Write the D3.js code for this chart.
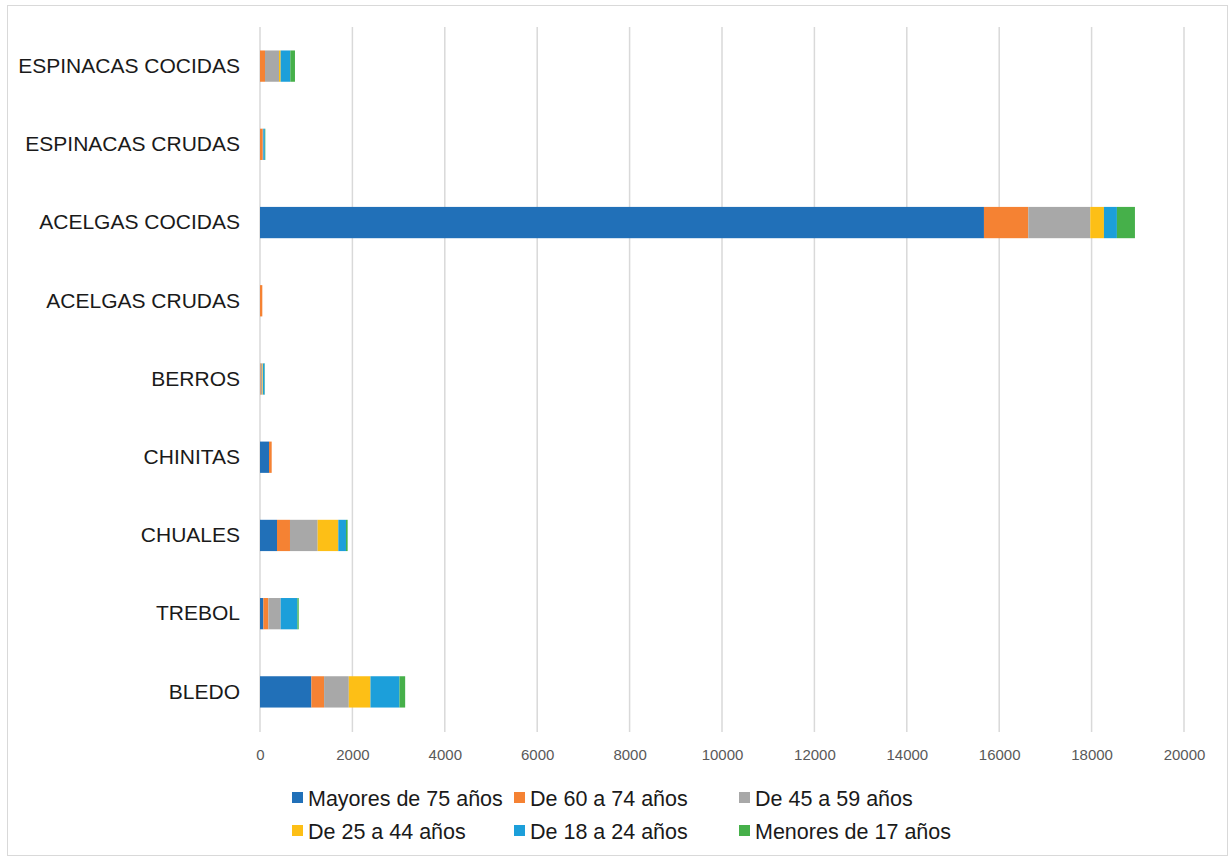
<!DOCTYPE html>
<html>
<head>
<meta charset="utf-8">
<script src="https://cdn.jsdelivr.net/npm/d3@7/dist/d3.min.js"></script>
<style>
  html, body { margin: 0; padding: 0; background: #fff; }
  svg { display: block; }
</style>
</head>
<body>
<svg id="chart" width="1229" height="858"></svg>
<script>
// Vegetables, listed top to bottom
const categories = [
  "ESPINACAS COCIDAS", "ESPINACAS CRUDAS", "ACELGAS COCIDAS", "ACELGAS CRUDAS",
  "BERROS", "CHINITAS", "CHUALES", "TREBOL", "BLEDO"
];

// Age groups (stack order, left to right)
const seriesNames = [
  "Mayores de 75 años", "De 60 a 74 años", "De 45 a 59 años",
  "De 25 a 44 años", "De 18 a 24 años", "Menores de 17 años"
];
const seriesColors = ["#2170B8", "#F58233", "#A8A8A8", "#FDBF16", "#1C9FDA", "#46B04A"];

// Values per age group, one entry per vegetable (same order as categories)
const mayores75 = [0,   0,  15670,  0,  0, 195, 368,  73, 1112];
const de60a74   = [108, 60,   959, 50, 15,  58, 281, 108,  275];
const de45a59   = [303, 10,  1342,  0, 40,   0, 599, 267,  535];
const de25a44   = [36,   0,   296,  0, 10,   0, 447,   0,  469];
const de18a24   = [209, 35,   281,  0, 35,   0, 166, 361,  628];
const menores17 = [101, 10,   390,  0,  5,   0,  36,  29,  123];

const tickValues = [0, 2000, 4000, 6000, 8000, 10000, 12000, 14000, 16000, 18000, 20000];

const seriesValues = [mayores75, de60a74, de45a59, de25a44, de18a24, menores17];

const rows = categories.map((c, i) => {
  const r = { category: c };
  seriesNames.forEach((s, j) => { r[s] = seriesValues[j][i]; });
  return r;
});

const svg = d3.select("#chart");

// Outer frame
svg.append("rect")
  .attr("x", 7.5).attr("y", 5.5)
  .attr("width", 1220).attr("height", 850)
  .attr("fill", "#fff")
  .attr("stroke", "#d9d9d9")
  .attr("stroke-width", 1);

const plot = { left: 260, right: 1184, top: 27, bottom: 731 };

const x = d3.scaleLinear().domain([0, 20000]).range([plot.left, plot.right]);
const y = d3.scaleBand().domain(categories).range([plot.top, plot.bottom]).paddingInner(0.6).paddingOuter(0.3);

// Vertical gridlines
svg.append("g")
  .selectAll("line")
  .data(tickValues)
  .join("line")
  .attr("x1", d => x(d)).attr("x2", d => x(d))
  .attr("y1", plot.top).attr("y2", plot.bottom + 1)
  .attr("stroke", "#d9d9d9")
  .attr("stroke-width", 1.5);

// X axis labels
const xAxis = d3.axisBottom(x).tickValues(tickValues).tickSize(0).tickPadding(0).tickFormat(d3.format("d"));
const gx = svg.append("g")
  .attr("transform", `translate(0,${plot.bottom + 18})`)
  .call(xAxis);
gx.select(".domain").remove();
gx.selectAll("text")
  .attr("fill", "#595959")
  .attr("font-family", "Liberation Sans, Arial, sans-serif")
  .attr("font-size", 15);

// Stacked bars
const stack = d3.stack().keys(seriesNames);
const layers = stack(rows);

svg.append("g")
  .selectAll("g")
  .data(layers)
  .join("g")
  .attr("fill", (d, i) => seriesColors[i])
  .selectAll("rect")
  .data(d => d)
  .join("rect")
  .attr("x", d => x(d[0]))
  .attr("y", d => y(d.data.category))
  .attr("width", d => Math.max(0, x(d[1]) - x(d[0])))
  .attr("height", y.bandwidth());

// Category labels
const yAxis = d3.axisLeft(y).tickSize(0).tickPadding(20);
const gy = svg.append("g")
  .attr("transform", `translate(${plot.left},0)`)
  .call(yAxis);
gy.select(".domain").remove();
gy.selectAll("text")
  .attr("fill", "#1a1a1a")
  .attr("font-family", "Liberation Sans, Arial, sans-serif")
  .attr("font-size", 21);

// Legend: two rows of three
const legendCols = [292, 514, 739];
const legendRows = [798, 831];
const legend = svg.append("g")
  .selectAll("g")
  .data(seriesNames)
  .join("g")
  .attr("transform", (d, i) => `translate(${legendCols[i % 3]},${legendRows[Math.floor(i / 3)]})`);

legend.append("rect")
  .attr("x", 0).attr("y", -6)
  .attr("width", 11).attr("height", 11)
  .attr("fill", (d, i) => seriesColors[i]);

legend.append("text")
  .attr("x", 16)
  .attr("y", 0)
  .attr("dy", "0.35em")
  .attr("fill", "#1a1a1a")
  .attr("font-family", "Liberation Sans, Arial, sans-serif")
  .attr("font-size", 21.5)
  .text(d => d);
</script>
</body>
</html>
